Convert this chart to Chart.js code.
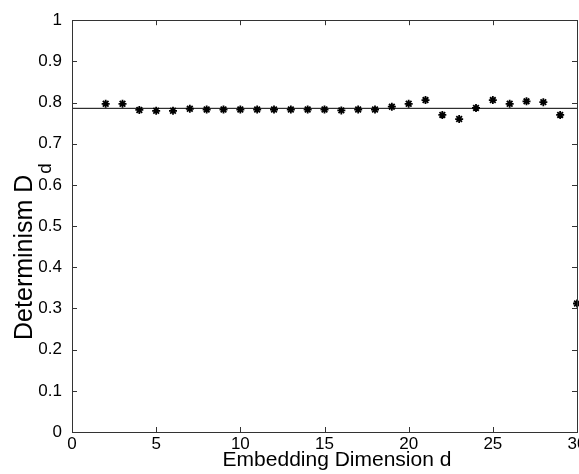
<!DOCTYPE html>
<html>
<head>
<meta charset="utf-8">
<script src="https://cdn.jsdelivr.net/npm/chart.js@4.4.1/dist/chart.umd.min.js"></script>
<style>
  html, body { margin: 0; padding: 0; background: #fff; overflow: hidden; width: 579px; height: 474px; }
  #wrap { width: 600px; height: 474px; }
</style>
</head>
<body>
<div id="wrap"><canvas id="c" width="600" height="474"></canvas></div>
<script>
// ---- data ----
const dims = [2, 3, 4, 5, 6, 7, 8, 9, 10, 11, 12, 13, 14, 15, 16, 17, 18, 19, 20, 21, 22, 23, 24, 25, 26, 27, 28, 29, 30];
const determinism = [0.797, 0.797, 0.782, 0.780, 0.780, 0.785, 0.783, 0.783, 0.783, 0.783, 0.783, 0.783, 0.783, 0.783, 0.781, 0.783, 0.783, 0.790, 0.797, 0.806, 0.770, 0.760, 0.787, 0.806, 0.797, 0.803, 0.801, 0.770, 0.312];
const meanLevel = 0.786;
const xTickValues = [0, 5, 10, 15, 20, 25, 30];
const xTickLabels = ['0', '5', '10', '15', '20', '25', '30'];
const yTickValues = [0, 0.1, 0.2, 0.3, 0.4, 0.5, 0.6, 0.7, 0.8, 0.9, 1];
const yTickLabels = ['0', '0.1', '0.2', '0.3', '0.4', '0.5', '0.6', '0.7', '0.8', '0.9', '1'];
const xTitle = 'Embedding Dimension d';
const yTitleMain = 'Determinism D';
const yTitleSub = 'd';

const FONT = "'Liberation Sans', Arial, Helvetica, sans-serif";

const framePlugin = {
  id: 'frame',
  afterDraw(chart) {
    const ctx = chart.ctx;
    const a = chart.chartArea;
    const xs = chart.scales.x, ys = chart.scales.y;
    ctx.save();
    ctx.strokeStyle = '#333';
    ctx.lineWidth = 1;
    ctx.strokeRect(Math.round(a.left) + 0.5, Math.round(a.top) + 0.5, Math.round(a.right - a.left), Math.round(a.bottom - a.top));
    ctx.beginPath();
    const tl = 5;
    xTickValues.forEach(v => {
      const px = Math.round(xs.getPixelForValue(v)) + 0.5;
      ctx.moveTo(px, a.bottom); ctx.lineTo(px, a.bottom - tl);
      ctx.moveTo(px, a.top); ctx.lineTo(px, a.top + tl);
    });
    yTickValues.forEach(v => {
      const py = Math.round(ys.getPixelForValue(v)) + 0.5;
      ctx.moveTo(a.left, py); ctx.lineTo(a.left + tl, py);
      ctx.moveTo(a.right, py); ctx.lineTo(a.right - tl, py);
    });
    ctx.stroke();

    // titles
    ctx.fillStyle = '#000';
    ctx.font = '21px ' + FONT;
    ctx.textAlign = 'center';
    ctx.textBaseline = 'alphabetic';
    ctx.fillText(xTitle, 337, 466);

    ctx.translate(32, 0);
    ctx.rotate(-Math.PI / 2);
    ctx.textAlign = 'left';
    ctx.font = '25px ' + FONT;
    const wMain = ctx.measureText(yTitleMain).width;
    ctx.font = '19px ' + FONT;
    const wSub = ctx.measureText(yTitleSub).width;
    const total = wMain + wSub;
    const cy = 252;
    const start = -(cy + total / 2);
    ctx.font = '25px ' + FONT;
    ctx.fillText(yTitleMain, start, 0);
    ctx.font = '19px ' + FONT;
    ctx.fillText(yTitleSub, start + wMain + 1, 19);
    ctx.restore();
  }
};

new Chart(document.getElementById('c'), {
  type: 'scatter',
  data: {
    datasets: [
      {
        type: 'line',
        data: [{ x: 0, y: meanLevel }, { x: 30, y: meanLevel }],
        borderColor: '#000',
        borderWidth: 1,
        pointRadius: 0,
        fill: false
      },
      {
        data: dims.map((d, i) => ({ x: d, y: determinism[i] })),
        pointStyle: 'star',
        pointRadius: 4,
        borderColor: '#000',
        backgroundColor: '#000',
        borderWidth: 1.8,
        clip: false
      }
    ]
  },
  options: {
    responsive: false,
    animation: false,
    devicePixelRatio: 1,
    layout: { padding: { top: 17, right: 23, left: 0, bottom: 0 } },
    plugins: { legend: { display: false }, tooltip: { enabled: false } },
    scales: {
      x: {
        type: 'linear', min: 0, max: 30,
        grid: { display: false, drawTicks: false },
        border: { display: false },
        afterBuildTicks: s => { s.ticks = xTickValues.map(v => ({ value: v })); },
        afterFit: s => { s.height = 42; },
        ticks: {
          padding: 2,
          color: '#000',
          font: { family: FONT, size: 17 },
          maxRotation: 0,
          callback: (v, i) => xTickLabels[i]
        }
      },
      y: {
        type: 'linear', min: 0, max: 1,
        grid: { display: false, drawTicks: false },
        border: { display: false },
        afterBuildTicks: s => { s.ticks = yTickValues.map(v => ({ value: v })); },
        afterFit: s => { s.width = 72; },
        ticks: {
          padding: 10,
          color: '#000',
          font: { family: FONT, size: 17 },
          callback: (v, i) => yTickLabels[i]
        }
      }
    }
  },
  plugins: [framePlugin]
});
</script>
</body>
</html>
